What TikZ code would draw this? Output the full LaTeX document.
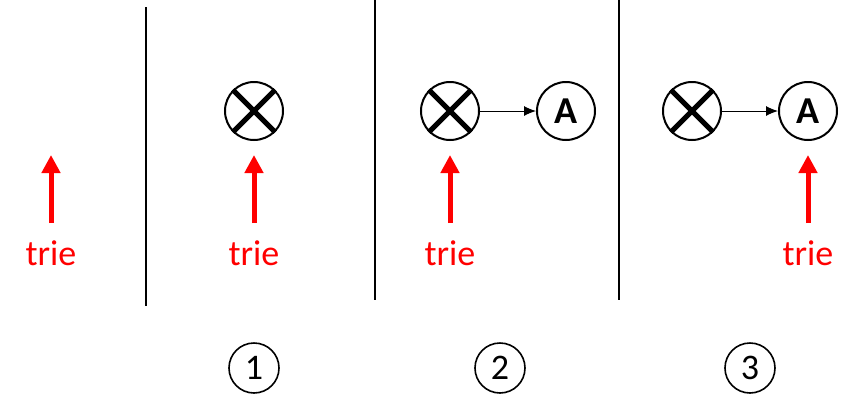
\documentclass[tikz,border=0pt]{standalone}
\usepackage{fontspec}
\setmainfont{Carlito}
\usetikzlibrary{arrows.meta}
\usetikzlibrary{positioning}

\begin{document}
\begin{tikzpicture}[x=0.5pt,y=-0.5pt,
    node/.style={circle,draw,line width=1pt,minimum size=29pt,inner sep=0pt,font=\fontsize{19}{20}\selectfont\bfseries},
    num/.style={circle,draw,line width=0.8pt,minimum size=25pt,inner sep=0pt,font=\fontsize{18}{18}\selectfont},
    label/.style={text=red,inner sep=0pt,font=\fontsize{18}{20}\selectfont},
    ptr/.style={red,line width=2.5pt,-{Triangle[width=9pt,length=9pt]}},
    link/.style={line width=0.5pt,-{Latex[length=6pt,width=5pt]}},
    cross/.style={line width=2.5pt}]
    \useasboundingbox (0,0) rectangle (859,414);
    % separators
    \draw[line width=1pt] (146,7) -- (146,306);
    \draw[line width=1pt] (375,0) -- (375,300);
    \draw[line width=1pt] (619,0) -- (619,300);
    % step 1
    \node[node] (X1) at (254,111) {};
    \draw[cross] (X1.north west) -- (X1.south east) (X1.north east) -- (X1.south west);
    % step 2
    \node[node] (X2) at (450,111) {};
    \draw[cross] (X2.north west) -- (X2.south east) (X2.north east) -- (X2.south west);
    \node[node] (A2) at (566,111) {A};
    \draw[link] (X2) -- (A2);
    % step 3
    \node[node] (X3) at (692,111) {};
    \draw[cross] (X3.north west) -- (X3.south east) (X3.north east) -- (X3.south west);
    \node[node] (A3) at (808,111) {A};
    \draw[link] (X3) -- (A3);
    % trie pointers
    \node[label] (T0) at (51,253) {trie};
    \node[label] (T1) at (254,253) {trie};
    \node[label] (T2) at (450,253) {trie};
    \node[label] (T3) at (808,253) {trie};
    \coordinate (B0) at (51,223);  \coordinate (H0) at (51,155);
    \coordinate (B1) at (254,223); \coordinate (H1) at (254,155);
    \coordinate (B2) at (450,223); \coordinate (H2) at (450,155);
    \coordinate (B3) at (808,223); \coordinate (H3) at (808,155);
    \draw[ptr] (B0) -- (H0);
    \draw[ptr] (B1) -- (H1);
    \draw[ptr] (B2) -- (H2);
    \draw[ptr] (B3) -- (H3);
    % step numbers
    \node[num] (N1) at (254,368) {1};
    \node[num] (N2) at (500,368) {2};
    \node[num] (N3) at (750,368) {3};
\end{tikzpicture}
\end{document}
